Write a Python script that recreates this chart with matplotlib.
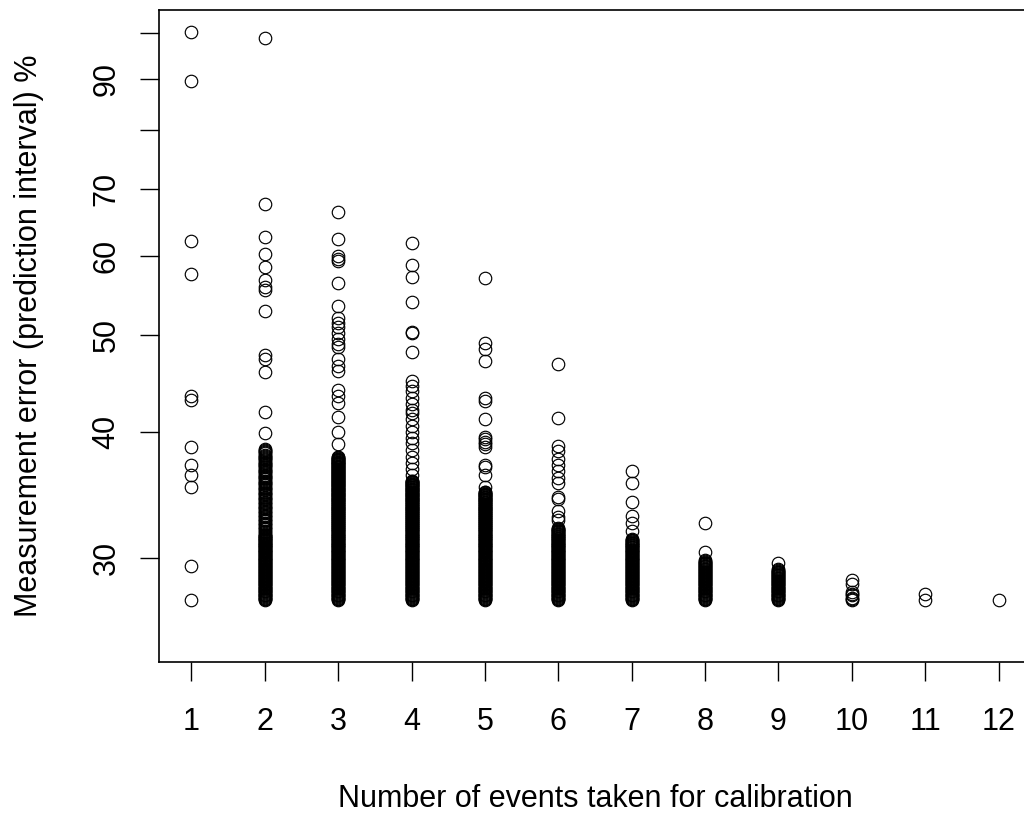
import matplotlib
matplotlib.use("Agg")
import matplotlib.pyplot as plt
from matplotlib.ticker import NullLocator

plt.rcParams['font.family'] = ['Liberation Sans', 'DejaVu Sans']

# ---- data ----
categories = [1, 2, 3, 4, 5, 6, 7, 8, 9, 10, 11, 12]

events_1 = [100.3, 89.6, 62.0, 57.6, 43.5, 43.1, 38.7, 37.1, 36.3, 35.3, 29.4, 27.2]

events_2_sparse = [98.9, 67.6, 62.6, 60.2, 58.5, 56.8, 55.9, 55.4, 52.8, 47.8, 47.3, 45.9, 41.9, 39.9]
events_2_band = [
    38.5, 38.4, 38.3, 38.2, 38.1, 38.0, 37.9, 37.8, 37.7, 37.6, 37.5, 37.4, 37.3, 37.2, 37.1, 37.0,
    36.9, 36.8, 36.7, 36.6, 36.5, 36.4, 36.3, 36.2, 36.1, 36.0, 35.9, 35.8, 35.7, 35.6, 35.5, 35.4,
    35.3, 35.2, 35.1, 35.0, 34.9, 34.8, 34.7, 34.6, 34.5, 34.4, 34.3, 34.2, 34.1, 34.0, 33.9, 33.8,
    33.7, 33.6, 33.5, 33.4, 33.3, 33.2, 33.1, 33.0, 32.9, 32.8, 32.7, 32.6, 32.5, 32.4, 32.3, 32.2,
    32.1, 32.0, 31.9, 31.8, 31.7, 31.6,
    31.55, 31.5, 31.45, 31.4, 31.35, 31.3, 31.25, 31.2, 31.15, 31.1, 31.05, 31.0,
    30.95, 30.9, 30.85, 30.8, 30.75, 30.7, 30.65, 30.6, 30.55, 30.5, 30.45, 30.4, 30.35, 30.3, 30.25, 30.2, 30.15, 30.1, 30.05, 30.0,
    29.95, 29.9, 29.85, 29.8, 29.75, 29.7, 29.65, 29.6, 29.55, 29.5, 29.45, 29.4, 29.35, 29.3, 29.25, 29.2, 29.15, 29.1, 29.05, 29.0,
    28.95, 28.9, 28.85, 28.8, 28.75, 28.7, 28.65, 28.6, 28.55, 28.5, 28.45, 28.4, 28.35, 28.3, 28.25, 28.2, 28.15, 28.1, 28.05, 28.0,
    27.95, 27.9, 27.85, 27.8, 27.75, 27.7, 27.65, 27.6, 27.55, 27.5, 27.45, 27.4, 27.35, 27.3, 27.25, 27.2]

events_3_sparse = [66.3, 62.3, 60.0, 59.5, 59.3, 56.3, 53.5, 52.0, 51.4, 50.9, 50.2, 49.6, 49.0, 48.6,
                   47.3, 46.6, 46.0, 44.1, 43.5, 42.8, 41.4, 40.0, 38.9]
events_3_band = [
    37.8, 37.75, 37.7, 37.65, 37.6, 37.55, 37.5, 37.45, 37.4, 37.35, 37.3, 37.25, 37.2, 37.15, 37.1, 37.05, 37.0,
    36.95, 36.9, 36.85, 36.8, 36.75, 36.7, 36.65, 36.6, 36.55, 36.5, 36.45, 36.4, 36.35, 36.3, 36.25, 36.2, 36.15, 36.1, 36.05, 36.0,
    35.95, 35.9, 35.85, 35.8, 35.75, 35.7, 35.65, 35.6, 35.55, 35.5, 35.45, 35.4, 35.35, 35.3, 35.25, 35.2, 35.15, 35.1, 35.05, 35.0,
    34.95, 34.9, 34.85, 34.8, 34.75, 34.7, 34.65, 34.6, 34.55, 34.5, 34.45, 34.4, 34.35, 34.3, 34.25, 34.2, 34.15, 34.1, 34.05, 34.0,
    33.95, 33.9, 33.85, 33.8, 33.75, 33.7, 33.65, 33.6, 33.55, 33.5, 33.45, 33.4, 33.35, 33.3, 33.25, 33.2, 33.15, 33.1, 33.05, 33.0,
    32.95, 32.9, 32.85, 32.8, 32.75, 32.7, 32.65, 32.6, 32.55, 32.5, 32.45, 32.4, 32.35, 32.3, 32.25, 32.2, 32.15, 32.1, 32.05, 32.0,
    31.95, 31.9, 31.85, 31.8, 31.75, 31.7, 31.65, 31.6, 31.55, 31.5, 31.45, 31.4, 31.35, 31.3, 31.25, 31.2, 31.15, 31.1, 31.05, 31.0,
    30.95, 30.9, 30.85, 30.8, 30.75, 30.7, 30.65, 30.6, 30.55, 30.5, 30.45, 30.4, 30.35, 30.3, 30.25, 30.2, 30.15, 30.1, 30.05, 30.0,
    29.95, 29.9, 29.85, 29.8, 29.75, 29.7, 29.65, 29.6, 29.55, 29.5, 29.45, 29.4, 29.35, 29.3, 29.25, 29.2, 29.15, 29.1, 29.05, 29.0,
    28.95, 28.9, 28.85, 28.8, 28.75, 28.7, 28.65, 28.6, 28.55, 28.5, 28.45, 28.4, 28.35, 28.3, 28.25, 28.2, 28.15, 28.1, 28.05, 28.0,
    27.95, 27.9, 27.85, 27.8, 27.75, 27.7, 27.65, 27.6, 27.55, 27.5, 27.45, 27.4, 27.35, 27.3, 27.25, 27.2]

events_4_sparse = [61.8, 58.7, 57.2, 54.0, 50.4, 50.2, 48.1, 45.0, 44.5, 44.0, 43.3, 42.7, 42.1, 41.8,
                   41.2, 40.6, 40.0, 39.5, 39.0, 38.4, 37.8, 37.3, 36.8, 36.3]
events_4_band = [
    35.8, 35.75, 35.7, 35.65, 35.6, 35.55, 35.5, 35.45, 35.4, 35.35, 35.3, 35.25, 35.2, 35.15, 35.1, 35.05, 35.0,
    34.95, 34.9, 34.85, 34.8, 34.75, 34.7, 34.65, 34.6, 34.55, 34.5, 34.45, 34.4, 34.35, 34.3, 34.25, 34.2, 34.15, 34.1, 34.05, 34.0,
    33.95, 33.9, 33.85, 33.8, 33.75, 33.7, 33.65, 33.6, 33.55, 33.5, 33.45, 33.4, 33.35, 33.3, 33.25, 33.2, 33.15, 33.1, 33.05, 33.0,
    32.95, 32.9, 32.85, 32.8, 32.75, 32.7, 32.65, 32.6, 32.55, 32.5, 32.45, 32.4, 32.35, 32.3, 32.25, 32.2, 32.15, 32.1, 32.05, 32.0,
    31.95, 31.9, 31.85, 31.8, 31.75, 31.7, 31.65, 31.6, 31.55, 31.5, 31.45, 31.4, 31.35, 31.3, 31.25, 31.2, 31.15, 31.1, 31.05, 31.0,
    30.95, 30.9, 30.85, 30.8, 30.75, 30.7, 30.65, 30.6, 30.55, 30.5, 30.45, 30.4, 30.35, 30.3, 30.25, 30.2, 30.15, 30.1, 30.05, 30.0,
    29.95, 29.9, 29.85, 29.8, 29.75, 29.7, 29.65, 29.6, 29.55, 29.5, 29.45, 29.4, 29.35, 29.3, 29.25, 29.2, 29.15, 29.1, 29.05, 29.0,
    28.95, 28.9, 28.85, 28.8, 28.75, 28.7, 28.65, 28.6, 28.55, 28.5, 28.45, 28.4, 28.35, 28.3, 28.25, 28.2, 28.15, 28.1, 28.05, 28.0,
    27.95, 27.9, 27.85, 27.8, 27.75, 27.7, 27.65, 27.6, 27.55, 27.5, 27.45, 27.4, 27.35, 27.3, 27.25, 27.2]

events_5_sparse = [57.0, 49.1, 48.4, 47.1, 43.3, 43.0, 41.2, 39.6, 39.4, 39.1, 38.9, 38.7, 37.1, 36.9,
                   36.3, 35.3]
events_5_band = [
    34.9, 34.85, 34.8, 34.75, 34.7, 34.65, 34.6, 34.55, 34.5, 34.45, 34.4, 34.35, 34.3, 34.25, 34.2, 34.15, 34.1, 34.05, 34.0,
    33.95, 33.9, 33.85, 33.8, 33.75, 33.7, 33.65, 33.6, 33.55, 33.5, 33.45, 33.4, 33.35, 33.3, 33.25, 33.2, 33.15, 33.1, 33.05, 33.0,
    32.95, 32.9, 32.85, 32.8, 32.75, 32.7, 32.65, 32.6, 32.55, 32.5, 32.45, 32.4, 32.35, 32.3, 32.25, 32.2, 32.15, 32.1, 32.05, 32.0,
    31.95, 31.9, 31.85, 31.8, 31.75, 31.7, 31.65, 31.6, 31.55, 31.5, 31.45, 31.4, 31.35, 31.3, 31.25, 31.2, 31.15, 31.1, 31.05, 31.0,
    30.95, 30.9, 30.85, 30.8, 30.75, 30.7, 30.65, 30.6, 30.55, 30.5, 30.45, 30.4, 30.35, 30.3, 30.25, 30.2, 30.15, 30.1, 30.05, 30.0,
    29.95, 29.9, 29.85, 29.8, 29.75, 29.7, 29.65, 29.6, 29.55, 29.5, 29.45, 29.4, 29.35, 29.3, 29.25, 29.2, 29.15, 29.1, 29.05, 29.0,
    28.95, 28.9, 28.85, 28.8, 28.75, 28.7, 28.65, 28.6, 28.55, 28.5, 28.45, 28.4, 28.35, 28.3, 28.25, 28.2, 28.15, 28.1, 28.05, 28.0,
    27.95, 27.9, 27.85, 27.8, 27.75, 27.7, 27.65, 27.6, 27.55, 27.5, 27.45, 27.4, 27.35, 27.3, 27.25, 27.2]

events_6_sparse = [46.8, 41.3, 38.8, 38.3, 37.6, 37.1, 36.6, 36.0, 35.6, 34.5, 34.3, 33.4, 32.9, 32.7]
events_6_band = [
    32.1, 32.05, 32.0,
    31.95, 31.9, 31.85, 31.8, 31.75, 31.7, 31.65, 31.6, 31.55, 31.5, 31.45, 31.4, 31.35, 31.3, 31.25, 31.2, 31.15, 31.1, 31.05, 31.0,
    30.95, 30.9, 30.85, 30.8, 30.75, 30.7, 30.65, 30.6, 30.55, 30.5, 30.45, 30.4, 30.35, 30.3, 30.25, 30.2, 30.15, 30.1, 30.05, 30.0,
    29.95, 29.9, 29.85, 29.8, 29.75, 29.7, 29.65, 29.6, 29.55, 29.5, 29.45, 29.4, 29.35, 29.3, 29.25, 29.2, 29.15, 29.1, 29.05, 29.0,
    28.95, 28.9, 28.85, 28.8, 28.75, 28.7, 28.65, 28.6, 28.55, 28.5, 28.45, 28.4, 28.35, 28.3, 28.25, 28.2, 28.15, 28.1, 28.05, 28.0,
    27.95, 27.9, 27.85, 27.8, 27.75, 27.7, 27.65, 27.6, 27.55, 27.5, 27.45, 27.4, 27.35, 27.3, 27.25, 27.2]

events_7_sparse = [36.6, 35.6, 34.1, 33.0, 32.5, 31.9]
events_7_band = [
    31.3, 31.25, 31.2, 31.15, 31.1, 31.05, 31.0,
    30.95, 30.9, 30.85, 30.8, 30.75, 30.7, 30.65, 30.6, 30.55, 30.5, 30.45, 30.4, 30.35, 30.3, 30.25, 30.2, 30.15, 30.1, 30.05, 30.0,
    29.95, 29.9, 29.85, 29.8, 29.75, 29.7, 29.65, 29.6, 29.55, 29.5, 29.45, 29.4, 29.35, 29.3, 29.25, 29.2, 29.15, 29.1, 29.05, 29.0,
    28.95, 28.9, 28.85, 28.8, 28.75, 28.7, 28.65, 28.6, 28.55, 28.5, 28.45, 28.4, 28.35, 28.3, 28.25, 28.2, 28.15, 28.1, 28.05, 28.0,
    27.95, 27.9, 27.85, 27.8, 27.75, 27.7, 27.65, 27.6, 27.55, 27.5, 27.45, 27.4, 27.35, 27.3, 27.25, 27.2]

events_8_sparse = [32.5, 30.4]
events_8_band = [
    29.8, 29.75, 29.7, 29.65, 29.6, 29.55, 29.5, 29.45, 29.4, 29.35, 29.3, 29.25, 29.2, 29.15, 29.1, 29.05, 29.0,
    28.95, 28.9, 28.85, 28.8, 28.75, 28.7, 28.65, 28.6, 28.55, 28.5, 28.45, 28.4, 28.35, 28.3, 28.25, 28.2, 28.15, 28.1, 28.05, 28.0,
    27.95, 27.9, 27.85, 27.8, 27.75, 27.7, 27.65, 27.6, 27.55, 27.5, 27.45, 27.4, 27.35, 27.3, 27.25, 27.2]

events_9_sparse = [29.6]
events_9_band = [
    29.2, 29.15, 29.1, 29.05, 29.0,
    28.95, 28.9, 28.85, 28.8, 28.75, 28.7, 28.65, 28.6, 28.55, 28.5, 28.45, 28.4, 28.35, 28.3, 28.25, 28.2, 28.15, 28.1, 28.05, 28.0,
    27.95, 27.9, 27.85, 27.8, 27.75, 27.7, 27.65, 27.6, 27.55, 27.5, 27.45, 27.4, 27.35, 27.3, 27.25, 27.2]

events_10 = [28.5, 28.2, 27.7, 27.6, 27.5, 27.35, 27.3, 27.2]
events_11 = [27.6, 27.2]
events_12 = [27.2]

series = [events_1,
          events_2_sparse + events_2_band,
          events_3_sparse + events_3_band,
          events_4_sparse + events_4_band,
          events_5_sparse + events_5_band,
          events_6_sparse + events_6_band,
          events_7_sparse + events_7_band,
          events_8_sparse + events_8_band,
          events_9_sparse + events_9_band,
          events_10, events_11, events_12]

y_ticks = [30, 40, 50, 60, 70, 80, 90, 100]
y_ticklabels = ['30', '40', '50', '60', '70', '', '90', '']
x_label = 'Number of events taken for calibration'
y_label = 'Measurement error (prediction interval) %'

# ---- figure ----
W, H = 1024, 814
fig = plt.figure(figsize=(W / 100, H / 100), dpi=100)
left, right, top, bottom = 159, 1031, 10, 662
ax = fig.add_axes([left / W, (H - bottom) / H, (right - left) / W, (bottom - top) / H])

xs, ys = [], []
for c, vals in zip(categories, series):
    xs.extend([c] * len(vals))
    ys.extend(vals)

ax.plot(xs, ys, linestyle='none', marker='o', markerfacecolor='none',
        markeredgecolor='black', markersize=9, markeredgewidth=0.85)

ax.set_yscale('log')
ax.set_xlim(0.558, 12.442)
ax.set_ylim(23.6, 105.5)

ax.set_xticks(categories)
ax.set_xticklabels([str(c) for c in categories])
ax.set_yticks(y_ticks)
ax.set_yticklabels(y_ticklabels)
ax.yaxis.set_minor_locator(NullLocator())

ax.tick_params(axis='both', direction='out', length=13.7, width=1.0,
               labelsize=22, colors='black')
ax.tick_params(axis='x', pad=18.7)
ax.tick_params(axis='y', pad=13.4)
for lab in ax.get_yticklabels():
    lab.set_rotation(90)
    lab.set_va('center')

for s in ax.spines.values():
    s.set_linewidth(1.2)
    s.set_color('black')

fig.text(((left + right) / 2) / W, (H - 806.7) / H, x_label, fontsize=22,
         ha='center', va='baseline')
fig.text(37 / W, 1 - ((top + bottom) / 2) / H, y_label, fontsize=22,
         rotation=90, rotation_mode='anchor', ha='center', va='baseline')

fig.savefig('out.png', dpi=100, facecolor='white')
